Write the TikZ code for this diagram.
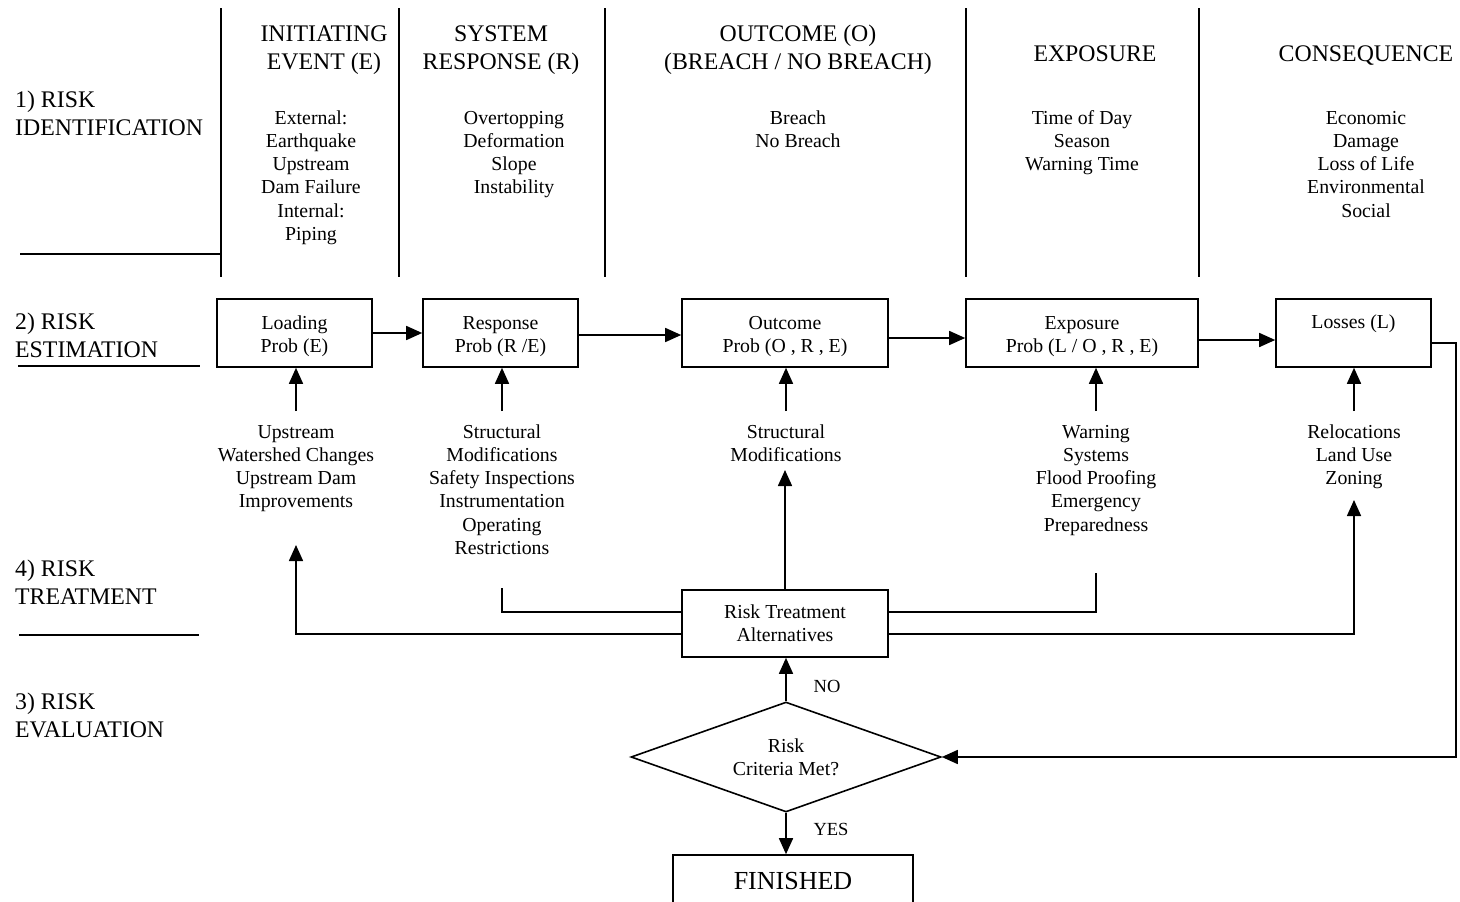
\documentclass[tikz,border=0pt]{standalone}
\usepackage{fontspec}
\setmainfont{Liberation Serif}
\usetikzlibrary{shapes.geometric,arrows.meta}
% extra head room on the first line of the probability boxes
\newcommand\boxstrut{\rule{0pt}{20pt}}
\begin{document}
\begin{tikzpicture}[x=1pt,y=-1pt,
  ln/.style={line width=1.6pt},
  arr/.style={ln,-{Triangle[length=16pt,width=14pt]}},
  txt/.style={font=\fontsize{19.8}{23.3}\selectfont, align=center, inner sep=0pt, anchor=base},
  hd/.style={font=\fontsize{23.8}{28}\selectfont, align=center, inner sep=0pt, anchor=base},
  rowlab/.style={font=\fontsize{23.8}{28}\selectfont, align=left, inner sep=0pt, anchor=base west},
  pbox/.style={draw, ln, font=\fontsize{19.8}{23.3}\selectfont, align=center, inner sep=0pt, minimum height=68pt},
  tag/.style={font=\fontsize{18.5}{22}\selectfont, inner sep=0pt, anchor=base}
]
\useasboundingbox (0,0) rectangle (1460,902);
\clip (0,0) rectangle (1460,902);

% ---- row labels (anchored on the baseline of their last line)
\node[rowlab] (lab1) at (15,135) {1) RISK\\IDENTIFICATION};
\node[rowlab] (lab2) at (15,357) {2) RISK\\ESTIMATION};
\node[rowlab] (lab4) at (15,604) {4) RISK\\TREATMENT};
\node[rowlab] (lab3) at (15,737) {3) RISK\\EVALUATION};

% ---- separator rules
\draw[ln] (20,254) -- (221,254);
\draw[ln] (18,366) -- (200,366);
\draw[ln] (19,635) -- (199,635);
\foreach \xx in {221,399,605,966,1199}
  \draw[ln] (\xx,8) -- (\xx,277);

% ---- column headers
\node[hd] (hE) at (324,69) {INITIATING\\EVENT (E)};
\node[hd] (hR) at (501,69) {SYSTEM\\RESPONSE (R)};
\node[hd] (hO) at (798,69) {OUTCOME (O)\\(BREACH / NO BREACH)};
\node[hd] (hX) at (1095,61) {EXPOSURE};
\node[hd] (hC) at (1366,61) {CONSEQUENCE};

% ---- identification lists
\node[txt] (iE) at (311,240.5) {External:\\Earthquake\\Upstream\\Dam Failure\\Internal:\\Piping};
\node[txt] (iR) at (514,193.9) {Overtopping\\Deformation\\Slope\\Instability};
\node[txt] (iO) at (798,147.3) {Breach\\No Breach};
\node[txt] (iX) at (1082,170.6) {Time of Day\\Season\\Warning Time};
\node[txt] (iC) at (1366,217.2) {Economic\\Damage\\Loss of Life\\Environmental\\Social};

% ---- estimation chain
\node[pbox, minimum width=155pt] (load) at (294.5,333) {\boxstrut Loading\\Prob (E)};
\node[pbox, minimum width=155pt] (resp) at (500.5,333) {\boxstrut Response\\Prob (R /E)};
\node[pbox, minimum width=206pt] (outc) at (785,333) {\boxstrut Outcome\\Prob (O , R , E)};
\node[pbox, minimum width=232pt] (expo) at (1082,333) {\boxstrut Exposure\\Prob (L / O , R , E)};
\node[pbox, minimum width=155pt] (loss) at (1353.5,333) {Losses (L)\\~};

\draw[arr] (load.east) -- (resp.west);
\draw[arr] ([yshift=-2pt]resp.east) -- ([yshift=-2pt]outc.west);
\draw[arr] ([yshift=-5pt]outc.east) -- ([yshift=-5pt]expo.west);
\draw[arr] ([yshift=-7pt]expo.east) -- ([yshift=-7pt]loss.west);

% ---- treatment options
\node[txt] (tE) at (296,507.9) {Upstream\\Watershed Changes\\Upstream Dam\\Improvements};
\node[txt] (tR) at (502,554.5) {Structural\\Modifications\\Safety Inspections\\Instrumentation\\Operating\\Restrictions};
\node[txt] (tO) at (786,461.3) {Structural\\Modifications};
\node[txt] (tX) at (1096,531.2) {Warning\\Systems\\Flood Proofing\\Emergency\\Preparedness};
\node[txt] (tL) at (1354,484.6) {Relocations\\Land Use\\Zoning};

\coordinate (uE) at (296,411);
\coordinate (uR) at (502,411);
\coordinate (uO) at (786,411);
\coordinate (uX) at (1096,411);
\coordinate (uL) at (1354,411);
\draw[arr] (uE) -- (uE |- load.south);
\draw[arr] (uR) -- (uR |- resp.south);
\draw[arr] (uO) -- (uO |- outc.south);
\draw[arr] (uX) -- (uX |- expo.south);
\draw[arr] (uL) -- (uL |- loss.south);

% ---- risk treatment alternatives
\node[pbox, minimum width=206pt, minimum height=67pt] (rta) at (785,623.5) {Risk Treatment\\Alternatives};

\coordinate (rE) at (296,545);
\coordinate (rR) at (502,588);
\coordinate (rO) at (785,470);
\coordinate (rX) at (1096,573);
\coordinate (rL) at (1354,500);
\draw[arr] ([yshift=-10.5pt]rta.west) -| (rE);
\draw[ln]  ([yshift=11.5pt]rta.west) -| (rR);
\draw[arr] (rta.north) -- (rO);
\draw[ln]  ([yshift=11.5pt]rta.east) -| (rX);
\draw[arr] ([yshift=-10.5pt]rta.east) -| (rL);

% ---- evaluation
\node[draw, ln, diamond, aspect=2.8, minimum width=310pt, minimum height=110pt, inner sep=0pt,
      font=\fontsize{19.8}{23.3}\selectfont, align=center] (dia) at (786,757) {Risk\\Criteria Met?};
\node[draw, ln, minimum width=240pt, minimum height=52pt, inner sep=0pt,
      font=\fontsize{26}{30}\selectfont] (fin) at (793,881) {FINISHED};

\coordinate (lc) at (1456,343);
\draw[arr] ([yshift=-10pt]loss.east) -- (lc) |- (dia.east);
\draw[arr] (dia.north) -- (dia.north |- rta.south);
\draw[arr] (dia.south) -- (dia.south |- fin.north);
\node[tag] (no) at (827,692) {NO};
\node[tag] (yes) at (831,835) {YES};
\end{tikzpicture}
\end{document}
